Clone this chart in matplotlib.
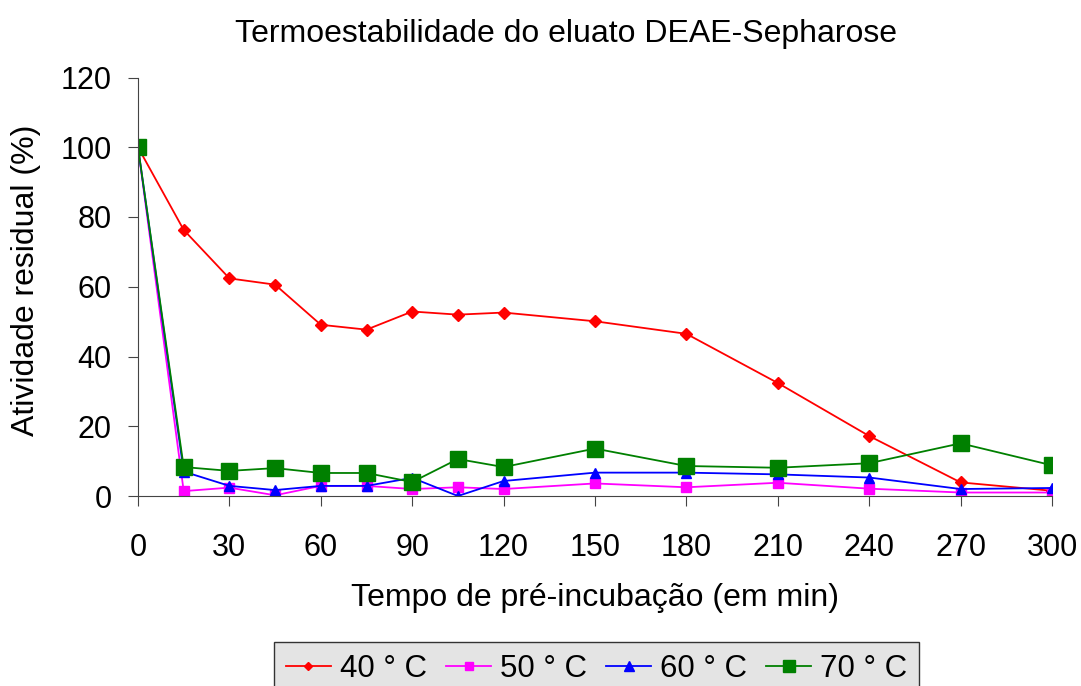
import matplotlib.pyplot as plt

plt.rcParams['font.family'] = ['Liberation Sans', 'DejaVu Sans']

tempo = [0, 15, 30, 45, 60, 75, 90, 105, 120, 150, 180, 210, 240, 270, 300]
t40 = [100, 76.3, 62.4, 60.6, 49.1, 47.7, 52.9, 52.0, 52.6, 50.1, 46.5, 32.4, 17.2, 3.9, 1.5]
t50 = [100, 1.4, 2.4, 0.2, 2.9, 2.9, 2.0, 2.5, 2.0, 3.6, 2.5, 3.8, 2.1, 1.0, 1.0]
t60 = [100, 7.0, 2.9, 1.7, 2.9, 2.9, 5.2, 0.0, 4.3, 6.7, 6.7, 6.2, 5.3, 2.0, 2.3]
t70 = [100, 8.3, 7.2, 8.0, 6.6, 6.6, 4.0, 10.6, 8.3, 13.6, 8.6, 8.1, 9.4, 15.1, 8.8]

fig = plt.figure(figsize=(10.81, 6.86), dpi=100)
ax = fig.add_axes([138 / 1081, 1 - 496 / 686, 914 / 1081, 418.5 / 686])

ax.plot(tempo, t40, color='red', marker='D', markersize=6, lw=1.3, label='40 ° C')
ax.plot(tempo, t50, color='magenta', marker='s', markersize=6.5, lw=1.3, label='50 ° C')
ax.plot(tempo, t60, color='blue', marker='^', markersize=7.5, lw=1.3, label='60 ° C')
ax.plot(tempo, t70, color='green', marker='s', markersize=11, lw=1.3, label='70 ° C')

ax.set_xlim(0, 300)
ax.set_ylim(0, 120)
ax.set_xticks(range(0, 301, 30))
ax.set_yticks(range(0, 121, 20))
for s in ['top', 'right']:
    ax.spines[s].set_visible(False)
for s in ['left', 'bottom']:
    ax.spines[s].set_color('#444444')
ax.tick_params(labelsize=22, length=7, color='#444444')
ax.tick_params(axis='x', pad=19.4)
ax.tick_params(axis='y', pad=12)

fig.text(566 / 1081, 1 - 42 / 686, 'Termoestabilidade do eluato DEAE-Sepharose',
         fontsize=23, ha='center', va='baseline')
fig.text(595 / 1081, 1 - 606 / 686, 'Tempo de pré-incubação (em min)',
         fontsize=23, ha='center', va='baseline')
fig.text(26 / 1081, 1 - 280 / 686, 'Atividade residual (%)',
         fontsize=23, ha='center', va='center', rotation=90)

leg = fig.legend(loc='upper left', bbox_to_anchor=(274 / 1081, 1 - 642 / 686), ncol=4,
                 fontsize=22.5, frameon=True, fancybox=False, edgecolor='#333333',
                 facecolor='#e4e4e4', framealpha=1, handlelength=1.44,
                 handletextpad=0.28, columnspacing=0.62, borderpad=0.38,
                 borderaxespad=0)
leg.get_frame().set_linewidth(1.0)
for h, ms in zip(leg.legend_handles, [4.5, 6, 6.5, 8.6]):
    h.set_markersize(ms)

fig.savefig('out.png', dpi=100)
